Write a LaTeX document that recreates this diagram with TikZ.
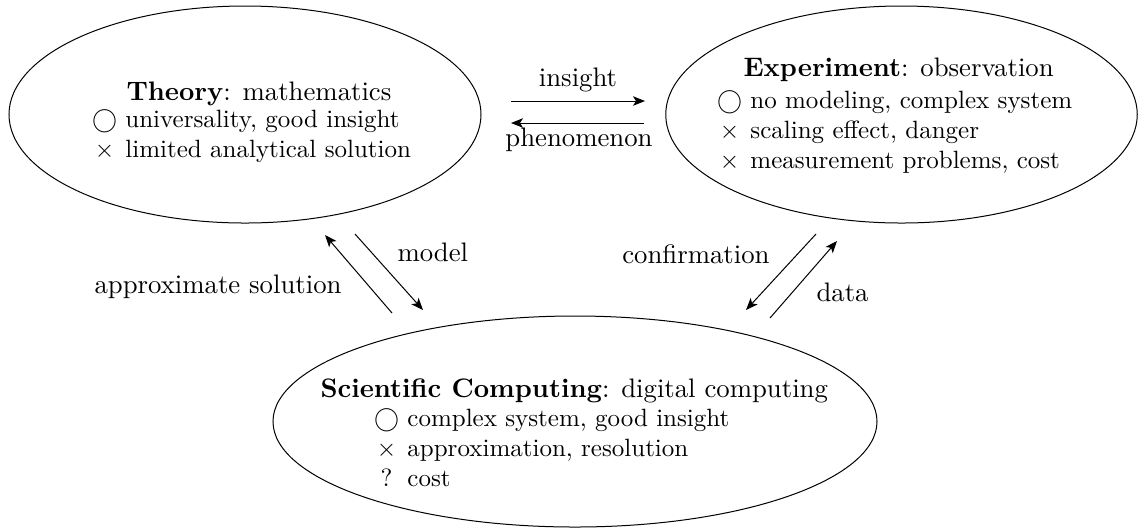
\documentclass[tikz,border=0pt]{standalone}
\usetikzlibrary{arrows.meta,shapes.geometric}
\newcommand\headsize{\fontsize{10.7}{12.8}\selectfont}
\begin{document}
\begin{tikzpicture}[x=0.4pt,y=-0.4pt,
  sphere/.style={draw, ellipse, inner sep=0pt, line width=0.4pt},
  info/.style={inner sep=0pt, anchor=base west},
  head/.style={inner sep=0pt, anchor=base west, font=\headsize},
  link/.style={-{Stealth[length=4.8pt,width=3.8pt,inset=1.2pt]}, line width=0.4pt},
  tag/.style={inner sep=0pt, font=\headsize}]
\useasboundingbox (0,0) rectangle (1139,529);

% the three fields
\node[sphere, minimum width=188.8pt, minimum height=86.8pt] (theory) at (245,114.5) {};
\node[sphere, minimum width=188.6pt, minimum height=86.8pt] (experiment) at (901.5,114.5) {};
\node[sphere, minimum width=241.6pt, minimum height=84.4pt] (computing) at (575,421.5) {};

% headings
\node[head] (theoryTitle) at (126,100) {\textbf{Theory}: mathematics};
\node[head] (experimentTitle) at (743,76) {\textbf{Experiment}: observation};
\node[head] (computingTitle) at (320,397) {\textbf{Scientific Computing}: digital computing};

% pros and cons
\node[info] (theoryText) at (91.6,127) {\begin{tabular}[t]{@{}c@{\ }l@{}}
  $\bigcirc$ & universality, good insight\\
  $\times$ & limited analytical solution
\end{tabular}};
\node[info] (experimentText) at (716.6,108) {\begin{tabular}[t]{@{}c@{\ }l@{}}
  $\bigcirc$ & no modeling, complex system\\
  $\times$ & scaling effect, danger\\
  $\times$ & measurement problems, cost
\end{tabular}};
\node[info] (computingText) at (373.6,426) {\begin{tabular}[t]{@{}c@{\ }l@{}}
  $\bigcirc$ & complex system, good insight\\
  $\times$ & approximation, resolution\\
  ? & cost
\end{tabular}};

% arrow end points
\coordinate (insA) at (511,101);
\coordinate (insB) at (645,101);
\coordinate (phenA) at (644,123);
\coordinate (phenB) at (511,123);
\coordinate (apxA) at (392,313);
\coordinate (apxB) at (325,235);
\coordinate (modA) at (355,234);
\coordinate (modB) at (423,310);
\coordinate (confA) at (816,234);
\coordinate (confB) at (746,310);
\coordinate (datA) at (770,318);
\coordinate (datB) at (837,241);

\draw[link] (insA) -- (insB);
\draw[link] (phenA) -- (phenB);
\draw[link] (apxA) -- (apxB);
\draw[link] (modA) -- (modB);
\draw[link] (confA) -- (confB);
\draw[link] (datA) -- (datB);

% arrow labels
\node[tag, anchor=base] (insLabel) at (578,86) {insight};
\node[tag, anchor=base] (phenLabel) at (579,146) {phenomenon};
\node[tag, anchor=base west] (modLabel) at (397,261) {model};
\node[tag, anchor=base east] (apxLabel) at (342,293) {approximate solution};
\node[tag, anchor=base east] (confLabel) at (770,263) {confirmation};
\node[tag, anchor=base west] (datLabel) at (816,301) {data};
\end{tikzpicture}
\end{document}
